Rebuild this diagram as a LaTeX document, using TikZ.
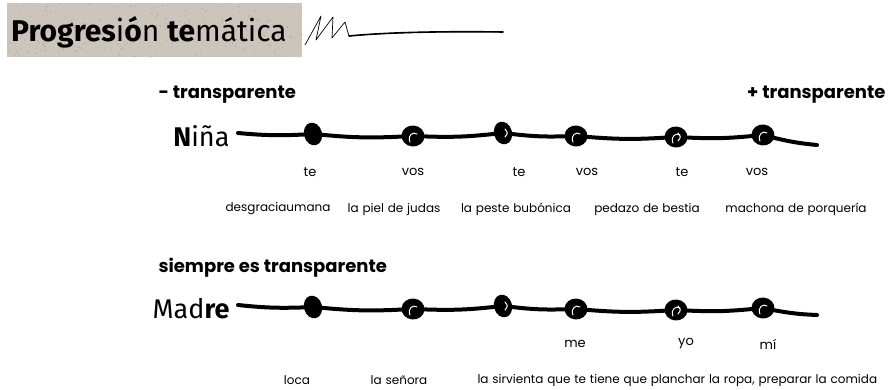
\documentclass[tikz,border=0pt]{standalone}
\usepackage{fontspec}
\setmainfont{Poppins}
\newfontfamily\titlefont{Fira Sans}
\newfontfamily\labelfont[WordSpace=1.2]{Poppins}
\usetikzlibrary{shapes.geometric}

\definecolor{stone}{RGB}{204,197,187}
\definecolor{grit}{RGB}{170,162,150}

\begin{document}
\begin{tikzpicture}[x=1pt, y=-1pt]
\tikzset{
  knot/.style = {ellipse, fill=black, minimum width=18pt, minimum height=23pt, inner sep=0pt, rotate=15},
  loopknot/.style = {knot, minimum width=23pt, minimum height=21pt, rotate=-20},
  rope/.style = {line width=4pt, line cap=round},
  curl/.style = {white, line width=1pt, line cap=round},
  pron/.style = {font=\fontsize{13}{15}\selectfont},
  insult/.style = {font=\labelfont\fontsize{12}{14}\selectfont},
  side/.style = {font=\fontsize{18}{21}\selectfont\bfseries},
  who/.style = {font=\titlefont\fontsize{27}{30}\selectfont}
}
\useasboundingbox (0,0) rectangle (892,390);

% banner
\fill[stone] (7,3) rectangle (302,57);
\pgfmathsetseed{7}
\foreach \i in {1,...,260}
  \fill[grit] (7+295*rnd,3+54*rnd) circle (0.3+0.5*rnd);
\node[anchor=base west, inner sep=0pt, font=\titlefont\fontsize{30}{34}\selectfont] (title) at (11,42)
  {\textbf{Progres}i\textbf{ó}n \textbf{te}mática};
\draw[line width=0.7pt, line join=round] (305,45) -- (321,16) -- (316,40) -- (333,17) -- (332,38)
  -- (345,22) -- (349,36) .. controls (370,34) and (420,31) .. (503,32);
\draw[line width=1.6pt, line cap=round] (349,36) .. controls (380,33) and (430,31) .. (503,32);

% headings
\node[side, anchor=west] (less) at (155,95) {- transparente};
\node[side, anchor=east] (more) at (889,95) {+ transparente};
\node[side, anchor=west] (always) at (155,268) {siempre es transparente};

% first rope
\node[who, anchor=east] (nina) at (233,136) {\textbf{N}iña};
\coordinate (a0) at (238,133);
\node[knot] (a1) at (313,134) {};
\node[loopknot] (a2) at (413,136) {};
\node[knot] (a3) at (503,133) {};
\node[loopknot] (a4) at (576,136) {};
\node[loopknot] (a5) at (676,137) {};
\node[loopknot] (a6) at (763,135) {};
\coordinate (a7) at (817,145);
\foreach \from/\to in {a0/a1, a1/a2, a2/a3, a3/a4, a4/a5, a5/a6, a6/a7}
  \draw[rope] (\from) to[bend right=4] (\to);

% second rope
\node[who, anchor=east] (madre) at (233,309) {Mad\textbf{re}};
\coordinate (b0) at (238,305);
\node[knot] (b1) at (313,307) {};
\node[loopknot] (b2) at (413,309) {};
\node[knot] (b3) at (503,306) {};
\node[loopknot] (b4) at (576,309) {};
\node[loopknot] (b5) at (676,310) {};
\node[loopknot] (b6) at (763,308) {};
\coordinate (b7) at (817,315);
\foreach \from/\to in {b0/b1, b1/b2, b2/b3, b3/b4, b4/b5, b5/b6, b6/b7}
  \draw[rope] (\from) to[bend right=4] (\to);

% curls in the knots
\foreach \k in {a2, a4, a5, a6, b2, b4, b5, b6}
  \draw[curl] ([shift={(-3,6)}]\k.center) .. controls ([shift={(-6,0)}]\k.center) and ([shift={(0,-5)}]\k.center) .. ([shift={(4,-2)}]\k.center);
\foreach \k in {a5, b5, a3, b3}
  \draw[curl] ([shift={(2,4)}]\k.center) .. controls ([shift={(5,0)}]\k.center) .. ([shift={(2,-4)}]\k.center);

% pronouns
\node[pron] (p1) at (310,172) {te};
\node[pron] (p2) at (413,172) {vos};
\node[pron] (p3) at (519,172) {te};
\node[pron] (p4) at (587,172) {vos};
\node[pron] (p5) at (682,172) {te};
\node[pron] (p6) at (757,172) {vos};
\node[pron] (q1) at (575,344) {me};
\node[pron] (q2) at (686,344) {yo};
\node[pron] (q3) at (768,344) {mí};

% names
\node[insult] (i1) at (278,209) {desgraciaumana};
\node[insult] (i2) at (394,209) {la piel de judas};
\node[insult] (i3) at (516,209) {la peste bubónica};
\node[insult] (i4) at (647,209) {pedazo de bestia};
\node[insult] (i5) at (796,209) {machona de porquería};
\node[insult] (j1) at (297,380) {loca};
\node[insult] (j2) at (399,380) {la señora};
\node[insult, anchor=west] (j3) at (474,380) {la sirvienta que te tiene que planchar la ropa, preparar la comida};
\end{tikzpicture}
\end{document}
